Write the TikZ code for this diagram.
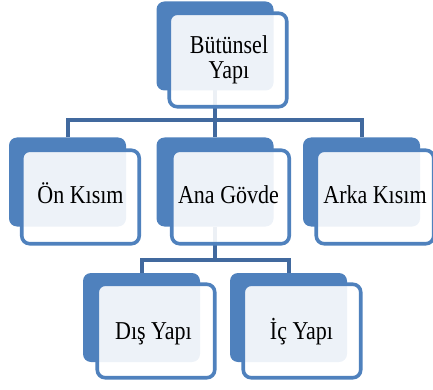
\documentclass[tikz,border=0pt]{standalone}
\usepackage{fontspec}
\setmainfont{Liberation Serif}
\usepackage{graphicx}
\pgfdeclarelayer{bg}
\pgfsetlayers{bg,main}
\definecolor{accblue}{RGB}{79,129,189}
\definecolor{connblue}{RGB}{65,105,158}
\newcommand\stx[1]{\scalebox{1}[1.17]{#1}}
\tikzset{
  backbox/.style={rectangle, rounded corners=8pt, fill=accblue, draw=none,
    minimum width=117pt, minimum height=89pt, inner sep=0pt, outer sep=0pt},
  frontbox/.style={rectangle, rounded corners=8pt, draw=accblue, line width=3.6pt,
    fill=white, fill opacity=0.9, draw opacity=1,
    minimum width=117.5pt, minimum height=93.5pt, inner sep=0pt, outer sep=0pt},
  txt/.style={inner sep=0pt, anchor=base, text=black,
    font=\fontsize{22}{22}\selectfont},
  conn/.style={draw=connblue, line width=4pt}
}
\begin{document}
\begin{tikzpicture}[x=1pt,y=-1pt]
\useasboundingbox (0,0) rectangle (433,390);
% back boxes
\node[backbox] (topb) at (215,46) {};
\node[backbox] (onb)  at (67.5,182) {};
\node[backbox] (anab) at (215,182) {};
\node[backbox] (arkab) at (361.5,182) {};
\node[backbox] (disb) at (141.5,317.5) {};
\node[backbox] (icb)  at (288.5,317.5) {};
% front boxes
\node[frontbox] (topf) at (228,60) {};
\node[frontbox] (onf)  at (80.5,197) {};
\node[frontbox] (anaf) at (230.5,197) {};
\node[frontbox] (arkaf) at (375,197) {};
\node[frontbox] (disf) at (156,331) {};
\node[frontbox] (icf)  at (302,331) {};
% connectors
\coordinate (bus1) at (215,120);
\coordinate (bus2) at (215,260);
\begin{pgfonlayer}{bg}
\draw[conn] (topb.south) -- (anab.north);
\draw[conn] (onb.north) |- (bus1) -| (arkab.north);
\draw[conn] (anab.south) -- (bus2);
\draw[conn] (disb.north) |- (bus2) -| (icb.north);
\end{pgfonlayer}
% texts
\node[txt] (t1) at (229,53.5) {\stx{\begin{tabular}[t]{@{}c@{}}Bütünsel\\[-0.6pt]Yapı\end{tabular}}};
\node[txt] (t2) at (80.5,203.5) {\stx{Ön Kısım}};
\node[txt] (t3) at (228.5,203.5) {\stx{Ana Gövde}};
\node[txt] (t4) at (375,203.5) {\stx{Arka Kısım}};
\node[txt] (t5) at (153.5,339) {\stx{Dış Yapı}};
\node[txt] (t6) at (301.5,339) {\stx{İç Yapı}};
\end{tikzpicture}
\end{document}
